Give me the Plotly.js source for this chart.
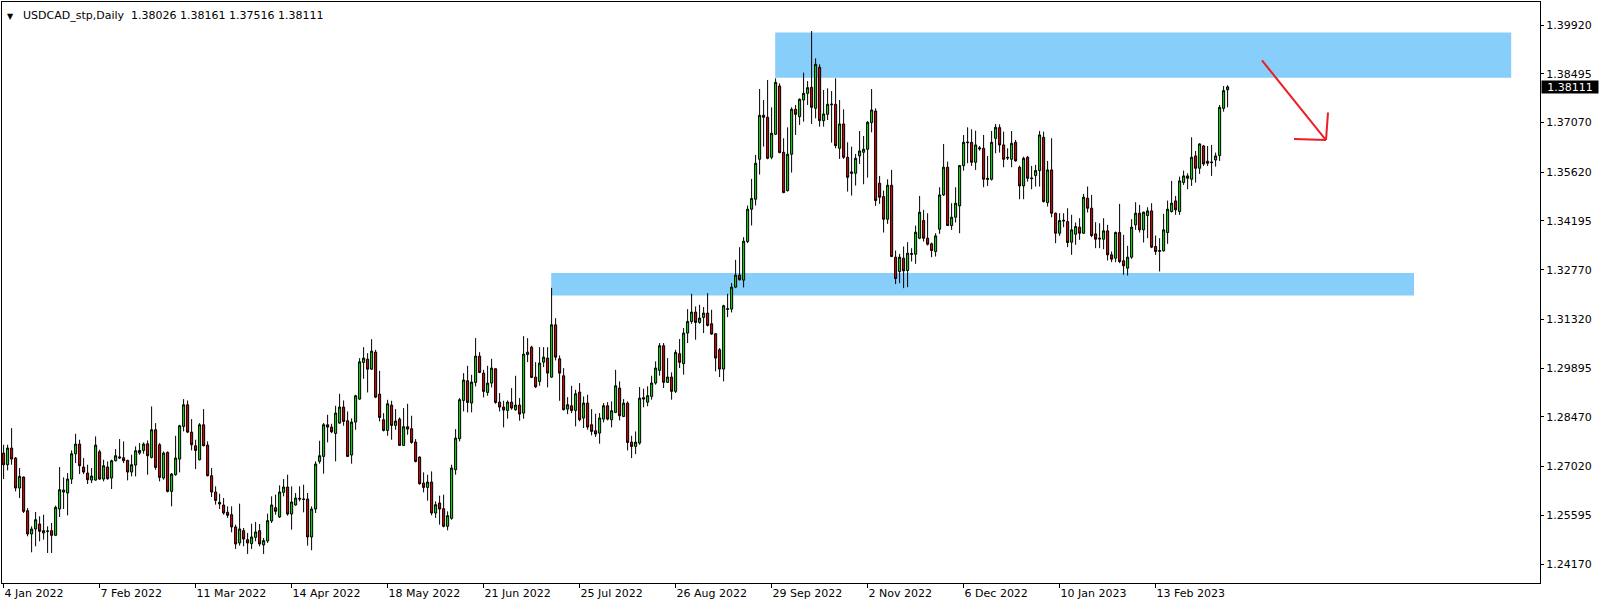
<!DOCTYPE html>
<html>
<head>
<meta charset="utf-8">
<script src="https://cdn.plot.ly/plotly-3.0.1.min.js"></script>
<style>html,body{margin:0;padding:0;background:#fff;}#chart{width:1604px;height:607px;}</style>
</head>
<body>
<div id="chart"></div>
<script>
// ---- Data: USDCAD daily candles (bar 0 = 4 Jan 2022) ----
const opens = [
1.27411,1.27071,1.27557,1.27265,1.26390,1.26711,1.25728,1.25047,1.25193,1.25339,
1.25076,1.25125,1.25144,1.25008,1.25777,1.26273,1.26244,1.26652,1.27392,1.27674,
1.27003,1.26828,1.26623,1.26623,1.27450,1.26652,1.27003,1.26682,1.27188,1.27265,
1.27275,1.27197,1.26857,1.27061,1.27411,1.27489,1.27684,1.27285,1.28092,1.27655,
1.26682,1.27431,1.26292,1.26779,1.27236,1.28190,1.28822,1.28024,1.27625,1.27217,
1.28239,1.27646,1.26750,1.26274,1.25972,1.25894,1.25680,1.25612,1.25252,1.24785,
1.25145,1.24882,1.24765,1.24950,1.25145,1.24727,1.24843,1.25427,1.25816,1.25544,
1.26264,1.26420,1.25631,1.25894,1.26089,1.26069,1.26069,1.24960,1.25777,1.27169,
1.27315,1.28239,1.28171,1.27986,1.28288,1.28755,1.28356,1.27354,1.28317,1.28988,
1.30059,1.30156,1.29864,1.30360,1.29134,1.28385,1.28074,1.28813,1.28220,1.28404,
1.27636,1.28181,1.28122,1.27732,1.27295,1.26536,1.26409,1.26565,1.25660,1.25952,
1.25786,1.25271,1.25504,1.26925,1.27831,1.28950,1.29524,1.28872,1.29476,1.30244,
1.29748,1.29184,1.29456,1.29875,1.28901,1.28756,1.28658,1.28901,1.28678,1.28814,
1.28580,1.30293,1.30507,1.29631,1.29505,1.30069,1.30186,1.29631,1.31159,1.30166,
1.29670,1.28697,1.28794,1.28658,1.29193,1.28435,1.28872,1.28240,1.28065,1.27996,
1.28405,1.28794,1.28386,1.28600,1.29310,1.28482,1.28871,1.27732,1.27606,1.27703,
1.29030,1.28900,1.29069,1.29458,1.29828,1.30548,1.29478,1.29633,1.29215,1.30315,
1.30023,1.30918,1.31258,1.31531,1.31229,1.31375,1.31502,1.31190,1.30898,1.30431,
1.29867,1.31608,1.31618,1.32261,1.32611,1.32465,1.33594,1.34537,1.34829,1.35997,
1.37281,1.37223,1.36055,1.36727,1.38137,1.36201,1.35082,1.36143,1.37456,1.37242,
1.37729,1.37923,1.38099,1.37486,1.38682,1.37125,1.37310,1.37612,1.37602,1.36317,
1.37028,1.36055,1.35627,1.35588,1.36094,1.36201,1.36288,1.37067,1.37407,1.35296,
1.34906,1.34245,1.35237,1.33136,1.32717,1.33106,1.32747,1.33243,1.33223,1.33690,
1.34206,1.33690,1.33525,1.33301,1.33953,1.34955,1.35763,1.34060,1.34303,1.34634,
1.35811,1.36502,1.36492,1.35909,1.36298,1.36317,1.35442,1.35412,1.36609,1.36921,
1.36415,1.36055,1.35996,1.36492,1.35763,1.35218,1.36055,1.35452,1.35520,1.35666,
1.36639,1.34732,1.35685,1.34420,1.33836,1.34216,1.34177,1.33574,1.33807,1.34012,
1.33836,1.34858,1.34566,1.33817,1.33691,1.33661,1.33905,1.33204,1.33107,1.33856,
1.33029,1.32815,1.33136,1.34080,1.34420,1.33934,1.34352,1.34488,1.33447,1.33331,
1.33321,1.33856,1.34469,1.34780,1.34469,1.35315,1.35510,1.35413,1.36094,1.35734,
1.36386,1.35880,1.35919,1.35977,1.36104,1.37485,1.38026
];
const highs = [
1.27655,1.27655,1.28141,1.27295,1.26974,1.26730,1.25806,1.25271,1.25689,1.25563,
1.25611,1.25271,1.25368,1.25874,1.27003,1.26701,1.26828,1.27489,1.27976,1.27801,
1.27265,1.27071,1.26974,1.27898,1.27509,1.27217,1.27168,1.27217,1.27528,1.27820,
1.27752,1.27217,1.27363,1.27606,1.27703,1.27723,1.27781,1.28774,1.28287,1.27703,
1.27460,1.27460,1.26828,1.27917,1.28238,1.28988,1.28949,1.28404,1.27801,1.28287,
1.28696,1.27753,1.26974,1.26439,1.26225,1.26098,1.25855,1.25855,1.25320,1.25933,
1.25223,1.25077,1.25349,1.25398,1.25339,1.24931,1.25641,1.26147,1.26196,1.26468,
1.26653,1.26780,1.26439,1.26244,1.26439,1.26488,1.26244,1.25855,1.27169,1.27772,
1.28288,1.28531,1.28268,1.28794,1.29144,1.28949,1.28628,1.28424,1.29115,1.30185,
1.30506,1.30331,1.30740,1.30428,1.29815,1.28580,1.28969,1.28940,1.28696,1.28453,
1.28726,1.28852,1.28502,1.27820,1.27314,1.26847,1.26779,1.26876,1.26000,1.26166,
1.26195,1.25709,1.27071,1.28112,1.29018,1.29748,1.29962,1.29699,1.30770,1.30361,
1.29845,1.29962,1.30166,1.29894,1.29164,1.28940,1.28950,1.29310,1.29670,1.29018,
1.30828,1.30770,1.30546,1.30069,1.30507,1.30507,1.30507,1.32239,1.31353,1.30264,
1.29894,1.29047,1.29378,1.29261,1.29456,1.29067,1.29116,1.28697,1.28561,1.28580,
1.28872,1.28901,1.28921,1.29845,1.29505,1.28988,1.28919,1.27917,1.28044,1.29342,
1.29293,1.29361,1.29672,1.30091,1.30626,1.30626,1.30188,1.29770,1.30431,1.30743,
1.31064,1.31618,1.32066,1.31696,1.31745,1.31677,1.32085,1.31599,1.30918,1.30480,
1.31745,1.32066,1.32377,1.33058,1.33428,1.33720,1.34644,1.35423,1.36123,1.38050,
1.37729,1.38313,1.37515,1.38361,1.38215,1.36610,1.36931,1.37515,1.37583,1.37777,
1.38527,1.38283,1.39743,1.38945,1.38770,1.38020,1.38069,1.37990,1.38361,1.37728,
1.37456,1.36492,1.36366,1.36152,1.36823,1.36677,1.37115,1.38049,1.37485,1.35510,
1.35082,1.35412,1.35685,1.33330,1.33233,1.33447,1.33573,1.33398,1.34060,1.34926,
1.34517,1.34420,1.33564,1.33836,1.35179,1.36444,1.35928,1.34712,1.35179,1.35831,
1.36707,1.36930,1.36872,1.36833,1.36385,1.36707,1.36094,1.36823,1.37028,1.37018,
1.36804,1.36317,1.36823,1.36561,1.35811,1.36074,1.36094,1.35802,1.35831,1.36824,
1.36804,1.35948,1.36610,1.34440,1.34420,1.34420,1.34566,1.34372,1.34148,1.34274,
1.34985,1.35199,1.34955,1.34158,1.34128,1.34274,1.34080,1.33301,1.33885,1.34693,
1.33788,1.33467,1.34245,1.34741,1.34664,1.34469,1.34595,1.34712,1.33768,1.33691,
1.34401,1.34790,1.35364,1.34926,1.35491,1.35666,1.35588,1.36639,1.36240,1.36464,
1.36415,1.36386,1.36415,1.36191,1.37583,1.38137,1.38161
];
const lows = [
1.26652,1.26905,1.27071,1.26292,1.26098,1.25660,1.24979,1.24512,1.24687,1.24833,
1.24882,1.24492,1.24492,1.24998,1.25543,1.25777,1.25592,1.26507,1.27119,1.26798,
1.26798,1.26507,1.26536,1.26604,1.26633,1.26584,1.26633,1.26361,1.27168,1.27236,
1.27119,1.26614,1.26730,1.26730,1.27363,1.27392,1.26779,1.27256,1.26925,1.26584,
1.26633,1.26263,1.25855,1.26750,1.26847,1.28044,1.27995,1.27489,1.26944,1.27197,
1.27607,1.26731,1.26128,1.25904,1.25777,1.25612,1.25515,1.25096,1.24610,1.24707,
1.24688,1.24464,1.24610,1.24834,1.24688,1.24464,1.24785,1.25369,1.25612,1.25515,
1.26147,1.25583,1.25174,1.25875,1.26001,1.25680,1.24707,1.24571,1.25661,1.27101,
1.26809,1.27723,1.27996,1.27169,1.28268,1.28210,1.27295,1.27101,1.28093,1.28969,
1.29582,1.29183,1.29845,1.29017,1.28336,1.28044,1.27918,1.27801,1.28093,1.27626,
1.27626,1.27947,1.27684,1.27139,1.26487,1.26263,1.26020,1.25592,1.25514,1.25319,
1.25242,1.25154,1.25465,1.26779,1.27753,1.28629,1.28600,1.28600,1.29359,1.29748,
1.29038,1.29086,1.29330,1.28853,1.28629,1.28162,1.28415,1.28678,1.28649,1.28357,
1.28415,1.30069,1.29602,1.29310,1.29378,1.29923,1.29330,1.29612,1.30118,1.28940,
1.28658,1.28551,1.28580,1.28191,1.28337,1.28143,1.28094,1.27928,1.27880,1.27685,
1.28308,1.28366,1.28162,1.28580,1.28366,1.28462,1.27489,1.27265,1.27382,1.27655,
1.28750,1.28780,1.28972,1.29410,1.29672,1.29312,1.29458,1.28972,1.29166,1.29896,
1.29702,1.30626,1.31190,1.30723,1.31190,1.30918,1.31113,1.30869,1.29799,1.29633,
1.29507,1.31385,1.31521,1.32231,1.32455,1.32251,1.33545,1.34061,1.34644,1.35549,
1.36367,1.35997,1.35997,1.36707,1.36172,1.35004,1.35053,1.35608,1.36707,1.36999,
1.37096,1.37583,1.37028,1.37194,1.36950,1.36950,1.37144,1.36483,1.36317,1.36006,
1.36006,1.35052,1.34936,1.35228,1.35860,1.35267,1.35461,1.36784,1.34634,1.34692,
1.33856,1.34109,1.33136,1.32348,1.32377,1.32231,1.32260,1.33009,1.32941,1.33661,
1.33593,1.33476,1.33136,1.33155,1.33817,1.34926,1.34050,1.33933,1.34148,1.33836,
1.35665,1.35879,1.35802,1.35685,1.36249,1.35179,1.35218,1.35374,1.36171,1.36191,
1.35763,1.35977,1.35763,1.35928,1.34829,1.34829,1.35345,1.35121,1.35199,1.35199,
1.34732,1.34615,1.34304,1.33545,1.33759,1.34012,1.33428,1.33204,1.33496,1.33642,
1.33817,1.34440,1.33720,1.33399,1.33399,1.33369,1.33039,1.32990,1.32990,1.32961,
1.32620,1.32601,1.33087,1.33934,1.33856,1.33564,1.33691,1.33399,1.33204,1.32718,
1.33301,1.33525,1.34440,1.34372,1.34372,1.35247,1.35121,1.35218,1.35315,1.35568,
1.35802,1.35802,1.35510,1.35782,1.35948,1.37388,1.37516
];
const closes = [
1.27071,1.27557,1.27236,1.26390,1.26730,1.25709,1.25047,1.25193,1.25465,1.25125,
1.25144,1.25135,1.25008,1.25825,1.26341,1.26331,1.26652,1.27392,1.27674,1.27042,
1.26857,1.26633,1.26740,1.27645,1.26652,1.27042,1.26662,1.27188,1.27334,1.27295,
1.27188,1.26857,1.27071,1.27480,1.27489,1.27674,1.27334,1.28092,1.26993,1.26701,
1.27411,1.26292,1.26798,1.27265,1.28209,1.28822,1.28024,1.27655,1.27489,1.28238,
1.27626,1.26750,1.26274,1.26030,1.25923,1.25661,1.25592,1.25252,1.24756,1.25194,
1.24902,1.24785,1.24960,1.25106,1.24756,1.24853,1.25437,1.25894,1.25709,1.26274,
1.26420,1.25631,1.25982,1.26098,1.26069,1.26059,1.24960,1.25777,1.27091,1.27334,
1.28239,1.28171,1.28035,1.28580,1.28755,1.28336,1.27315,1.28317,1.29086,1.30078,
1.30185,1.29864,1.30389,1.29047,1.28453,1.28074,1.28852,1.28220,1.28346,1.27636,
1.28181,1.28113,1.27723,1.27168,1.26516,1.26409,1.26565,1.25660,1.25903,1.25777,
1.25271,1.25582,1.26973,1.27849,1.28970,1.29544,1.28892,1.29485,1.30244,1.29767,
1.29213,1.29456,1.29894,1.28892,1.28756,1.28668,1.28901,1.28727,1.28814,1.28551,
1.30303,1.30361,1.29622,1.29349,1.30040,1.30215,1.29748,1.31159,1.30215,1.29748,
1.28678,1.28824,1.28658,1.29145,1.28386,1.28872,1.28172,1.28045,1.27967,1.28435,
1.28794,1.28405,1.28649,1.29378,1.28503,1.28871,1.27723,1.27606,1.27732,1.29017,
1.28990,1.29089,1.29458,1.29896,1.30548,1.29478,1.29633,1.29215,1.30353,1.30062,
1.30918,1.31258,1.31531,1.31229,1.31356,1.31502,1.31142,1.30889,1.30188,1.29867,
1.31716,1.31628,1.32261,1.32611,1.32475,1.33603,1.34537,1.34849,1.35880,1.37281,
1.37223,1.36026,1.36756,1.38244,1.36191,1.35024,1.36143,1.37456,1.37310,1.37748,
1.37923,1.38089,1.37515,1.38770,1.37126,1.37320,1.37602,1.37592,1.36395,1.37028,
1.36055,1.35471,1.35588,1.36025,1.36240,1.36288,1.37076,1.37436,1.34790,1.34887,
1.34245,1.35237,1.33155,1.32513,1.33136,1.32737,1.33252,1.33223,1.33865,1.34449,
1.33690,1.33515,1.33330,1.33758,1.34955,1.35763,1.34060,1.34303,1.34712,1.35811,
1.36492,1.36483,1.35909,1.36415,1.36327,1.35412,1.35412,1.36492,1.36930,1.36415,
1.35996,1.36035,1.36463,1.35948,1.35218,1.36025,1.35442,1.35432,1.35666,1.36707,
1.34761,1.35685,1.34420,1.33836,1.34206,1.34197,1.33564,1.33934,1.34031,1.33836,
1.34887,1.34566,1.33768,1.33661,1.33671,1.33905,1.33204,1.33078,1.33856,1.33009,
1.32883,1.33136,1.34012,1.34420,1.33934,1.34449,1.34488,1.33428,1.33301,1.33311,
1.33934,1.34537,1.34712,1.34518,1.35364,1.35510,1.35442,1.36055,1.35734,1.36444,
1.35860,1.35938,1.35899,1.36094,1.37514,1.38001,1.38111
];
// date labels, one every 24 trading days starting at the first bar
const dateLabels = ['4 Jan 2022','7 Feb 2022','11 Mar 2022','14 Apr 2022','18 May 2022','21 Jun 2022',
  '25 Jul 2022','26 Aug 2022','29 Sep 2022','2 Nov 2022','6 Dec 2022','10 Jan 2023','13 Feb 2023'];
const labelStep = 24;
const priceTicks = [1.39920,1.38495,1.37070,1.35620,1.34195,1.32770,1.31320,1.29895,1.28470,1.27020,1.25595,1.24170];
const symbolTitle = 'USDCAD_stp,Daily';

// drawn objects on the chart (zones in bar-index / price units, arrow)
const supplyZone = {x0: 192.9, x1: 376.9, y0: 1.38379, y1: 1.39704};
const demandZone = {x0: 136.9, x1: 352.6, y0: 1.32013, y1: 1.32676};
const arrowLine = {x0: 314.6, y0: 1.38884, x1: 330.6, y1: 1.36559};
const arrowHeadA = {x: 322.6, y: 1.36588};
const arrowHeadB = {x: 331.1, y: 1.37363};

const n = closes.length;
const xs = closes.map((_, i) => i);
const last = n - 1;

const trace = {
  type: 'candlestick',
  x: xs, open: opens, high: highs, low: lows, close: closes,
  increasing: {line: {color: '#000000', width: 1}, fillcolor: '#00e000'},
  decreasing: {line: {color: '#000000', width: 1}, fillcolor: '#e00000'},
  whiskerwidth: 0,
  hoverinfo: 'skip',
  showlegend: false
};

const zoneColor = '#87cefa';
const arrowColor = '#ee1c24';
const layout = {
  width: 1604, height: 607,
  margin: {l: 2, r: 64, t: 2, b: 24, pad: 0},
  paper_bgcolor: '#ffffff', plot_bgcolor: '#ffffff',
  showlegend: false,
  boxgap: 0.25,
  font: {family: 'DejaVu Sans, sans-serif', size: 11, color: '#000000'},
  xaxis: {
    range: [-0.4, 384.1],
    tickvals: dateLabels.map((_, i) => i * labelStep),
    ticktext: dateLabels,
    ticks: 'outside', ticklen: 4, tickcolor: '#000000', tickwidth: 1,
    ticklabelposition: 'outside right',
    showline: true, mirror: true, linecolor: '#000000', linewidth: 1,
    showgrid: false, zeroline: false,
    rangeslider: {visible: false},
    fixedrange: true
  },
  yaxis: {
    side: 'right',
    range: [1.23615, 1.40592],
    tickvals: priceTicks,
    ticktext: priceTicks.map(v => v.toFixed(5)),
    ticks: 'outside', ticklen: 3, tickcolor: '#000000', tickwidth: 1,
    showline: true, mirror: true, linecolor: '#000000', linewidth: 1,
    showgrid: false, zeroline: false,
    fixedrange: true
  },
  shapes: [
    {type: 'rect', layer: 'below', xref: 'x', yref: 'y', x0: supplyZone.x0, x1: supplyZone.x1, y0: supplyZone.y0, y1: supplyZone.y1,
     fillcolor: zoneColor, line: {width: 0}},
    {type: 'rect', layer: 'below', xref: 'x', yref: 'y', x0: demandZone.x0, x1: demandZone.x1, y0: demandZone.y0, y1: demandZone.y1,
     fillcolor: zoneColor, line: {width: 0}},
    {type: 'line', xref: 'x', yref: 'y', x0: arrowLine.x0, y0: arrowLine.y0, x1: arrowLine.x1, y1: arrowLine.y1,
     line: {color: arrowColor, width: 2}},
    {type: 'line', xref: 'x', yref: 'y', x0: arrowHeadA.x, y0: arrowHeadA.y, x1: arrowLine.x1, y1: arrowLine.y1,
     line: {color: arrowColor, width: 2}},
    {type: 'line', xref: 'x', yref: 'y', x0: arrowHeadB.x, y0: arrowHeadB.y, x1: arrowLine.x1, y1: arrowLine.y1,
     line: {color: arrowColor, width: 2}}
  ],
  annotations: [
    {xref: 'paper', yref: 'paper', x: 0, y: 1, xanchor: 'left', yanchor: 'top', xshift: 3, yshift: -8,
     text: '\u25BC', showarrow: false, font: {size: 8, color: '#000000'}},
    {xref: 'paper', yref: 'paper', x: 0, y: 1, xanchor: 'left', yanchor: 'top', xshift: 19, yshift: -5,
     text: symbolTitle + '  ' + [opens[last], highs[last], lows[last], closes[last]].map(v => v.toFixed(5)).join(' '),
     showarrow: false, font: {size: 11, color: '#000000'}},
    {xref: 'paper', yref: 'y', x: 1, y: closes[last], xanchor: 'left', yanchor: 'middle', xshift: 1,
     text: closes[last].toFixed(5), showarrow: false, bgcolor: '#000000', width: 56, height: 12, borderpad: 0,
     font: {size: 11, color: '#ffffff'}}
  ]
};

Plotly.newPlot('chart', [trace], layout, {displayModeBar: false, staticPlot: true});
</script>
</body>
</html>
